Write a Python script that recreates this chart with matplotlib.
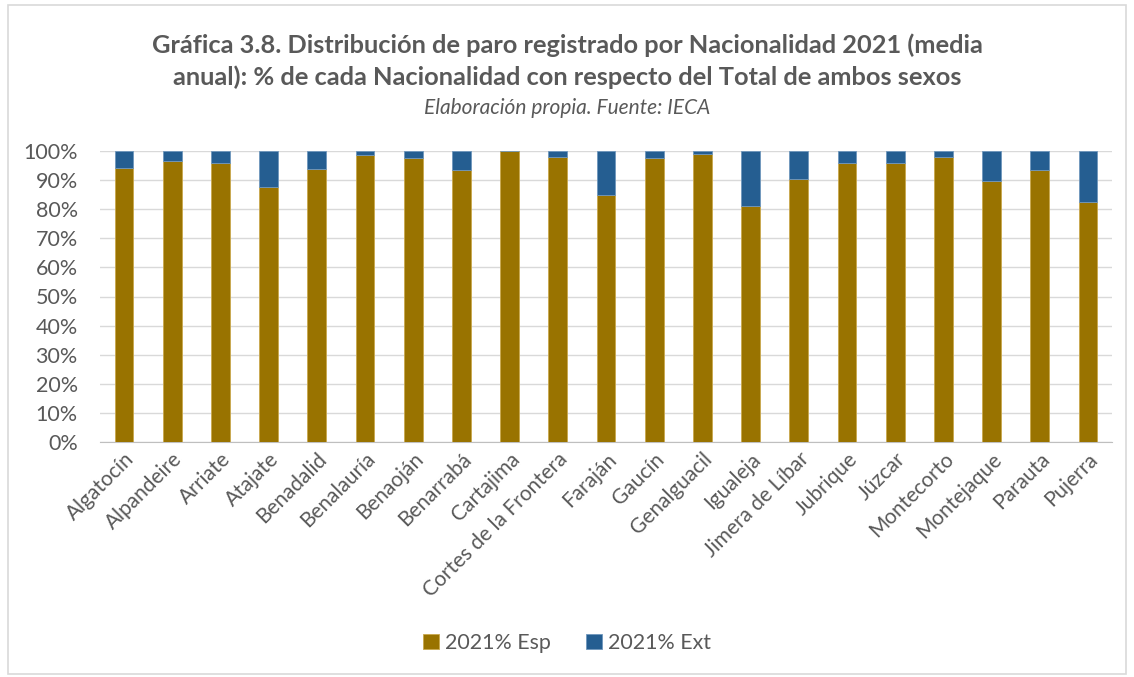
import matplotlib.pyplot as plt
from matplotlib.patches import Rectangle
from matplotlib.ticker import PercentFormatter
import numpy as np

municipios = ['Algatocín', 'Alpandeire', 'Arriate', 'Atajate', 'Benadalid', 'Benalauría',
              'Benaoján', 'Benarrabá', 'Cartajima', 'Cortes de la Frontera', 'Faraján',
              'Gaucín', 'Genalguacil', 'Igualeja', 'Jimera de Líbar', 'Jubrique', 'Júzcar',
              'Montecorto', 'Montejaque', 'Parauta', 'Pujerra']
esp = [94.1, 96.5, 95.8, 87.5, 93.7, 98.7, 97.5, 93.4, 100.0, 97.9, 84.8,
       97.5, 98.8, 81.0, 90.5, 95.8, 95.8, 97.8, 89.8, 93.4, 82.4]
ext = [100 - v for v in esp]

gris = '#595959'
plt.rcParams['font.family'] = ['Lato', 'DejaVu Sans']

fig = plt.figure(figsize=(11.34, 6.77), dpi=100)
ax = fig.add_axes([100 / 1134, 1 - 442 / 677, 1012 / 1134, 291 / 677])

x = np.arange(len(municipios))
ax.bar(x, esp, width=0.39, color='#997300', edgecolor='#c9a84c', linewidth=0.6,
       label='2021% Esp', zorder=3)
ax.bar(x, ext, width=0.39, bottom=esp, color='#255e91', edgecolor='#6f97bd', linewidth=0.6,
       label='2021% Ext', zorder=3)

ax.set_xlim(-0.5, len(municipios) - 0.5)
ax.set_ylim(0, 100)
ax.set_yticks(np.arange(0, 101, 10))
ax.yaxis.set_major_formatter(PercentFormatter(decimals=0))
ax.grid(axis='y', color='#d9d9d9', linewidth=1, zorder=0)
for s in ['top', 'right', 'left']:
    ax.spines[s].set_visible(False)
ax.spines['bottom'].set_color('#bfbfbf')
ax.tick_params(axis='y', length=0, labelsize=15.5, colors=gris, pad=16)
ax.tick_params(axis='x', length=0, labelsize=15, colors=gris, pad=5)
ax.set_xticks(x)
ax.set_xticklabels(municipios, rotation=45, ha='right', rotation_mode='anchor')

fig.text(0.5, 1 - 45 / 677, 'Gráfica 3.8. Distribución de paro registrado por Nacionalidad 2021 (media',
         ha='center', va='center', fontsize=18.3, fontweight='bold', color=gris)
fig.text(0.5, 1 - 77 / 677, 'anual): % de cada Nacionalidad con respecto del Total de ambos sexos',
         ha='center', va='center', fontsize=18.3, fontweight='bold', color=gris)
fig.text(0.5, 1 - 108 / 677, 'Elaboración propia. Fuente: IECA',
         ha='center', va='center', fontsize=15, style='italic', color=gris)

fig.legend(loc='center', bbox_to_anchor=(0.5, 1 - 643 / 677), ncol=2, frameon=False,
           fontsize=15.4, labelcolor=gris, handlelength=0.75, handleheight=0.75,
           handletextpad=0.3, columnspacing=1.6)

# marco del gráfico
fig.patches.append(Rectangle((8 / 1134, 0.005), 1 - 16 / 1134, 1 - 5 / 677 - 0.005,
                             transform=fig.transFigure, fill=False,
                             edgecolor='#d9d9d9', linewidth=1.2))

fig.savefig('out.png', dpi=100)
